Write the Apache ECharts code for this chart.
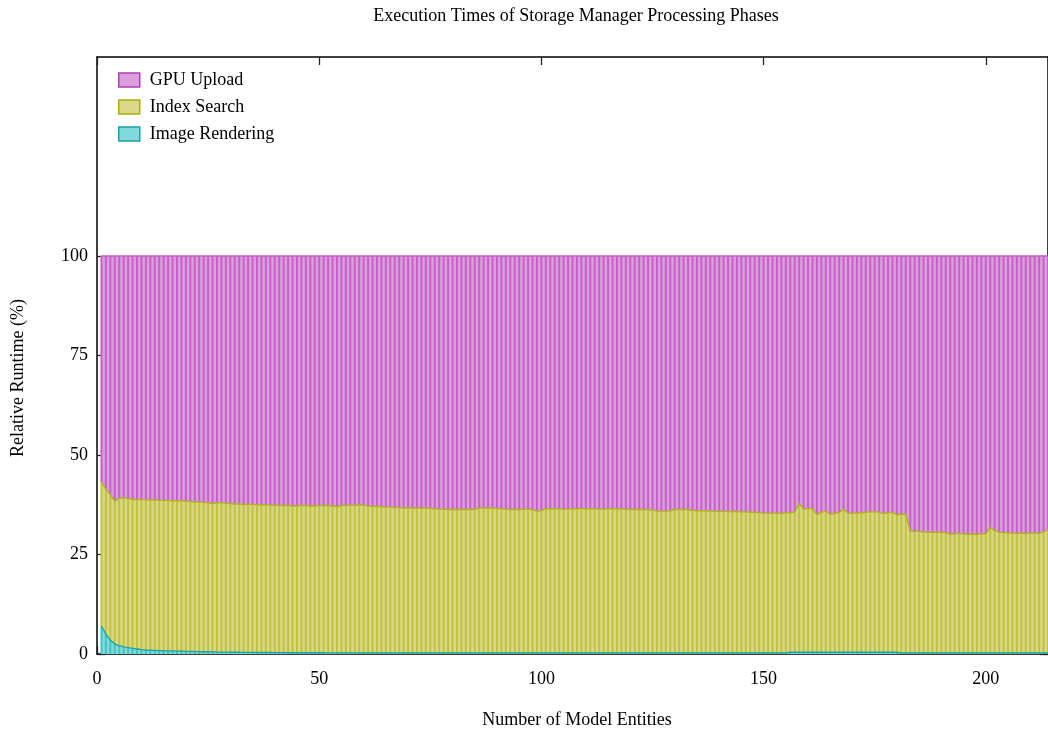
<!DOCTYPE html>
<html>
<head>
<meta charset="utf-8">
<script src="https://cdn.jsdelivr.net/npm/echarts@6/dist/echarts.min.js"></script>
<style>
  html, body { margin: 0; padding: 0; background: #ffffff; }
  #chart { width: 1048px; height: 732px; }
</style>
</head>
<body>
<div id="chart"></div>
<script>
// Relative runtime (%) of each processing phase, for model entity counts 1..214
const imageRendering = [
  7.0, 5.0, 3.5, 2.5, 2.1, 1.8, 1.6, 1.4, 1.25, 1.1,
  1.0, 0.95, 0.9, 0.85, 0.8, 0.78, 0.75, 0.72, 0.7, 0.67,
  0.65, 0.62, 0.6, 0.57, 0.55, 0.53, 0.5, 0.48, 0.46, 0.45,
  0.44, 0.43, 0.42, 0.41, 0.4, 0.39, 0.38, 0.37, 0.36, 0.35,
  0.34, 0.34, 0.33, 0.33, 0.32, 0.32, 0.31, 0.31, 0.3, 0.3,
  0.3, 0.29, 0.29, 0.29, 0.28, 0.28, 0.28, 0.28, 0.27, 0.27,
  0.25, 0.25, 0.25, 0.25, 0.25, 0.25, 0.25, 0.25, 0.25, 0.25,
  0.25, 0.25, 0.25, 0.25, 0.25, 0.25, 0.25, 0.25, 0.25, 0.25,
  0.25, 0.25, 0.25, 0.25, 0.25, 0.25, 0.25, 0.25, 0.25, 0.25,
  0.25, 0.25, 0.25, 0.25, 0.25, 0.25, 0.25, 0.25, 0.25, 0.25,
  0.25, 0.25, 0.25, 0.25, 0.25, 0.25, 0.25, 0.25, 0.25, 0.25,
  0.25, 0.25, 0.25, 0.25, 0.25, 0.25, 0.25, 0.25, 0.25, 0.25,
  0.25, 0.25, 0.25, 0.25, 0.25, 0.25, 0.25, 0.25, 0.25, 0.25,
  0.25, 0.25, 0.25, 0.25, 0.25, 0.25, 0.25, 0.25, 0.25, 0.25,
  0.25, 0.25, 0.25, 0.25, 0.25, 0.25, 0.25, 0.25, 0.25, 0.25,
  0.25, 0.25, 0.25, 0.25, 0.25, 0.45, 0.45, 0.45, 0.45, 0.45,
  0.45, 0.45, 0.45, 0.45, 0.45, 0.45, 0.45, 0.45, 0.45, 0.45,
  0.45, 0.45, 0.45, 0.45, 0.45, 0.45, 0.45, 0.45, 0.45, 0.45,
  0.25, 0.25, 0.25, 0.25, 0.25, 0.25, 0.25, 0.25, 0.25, 0.25,
  0.25, 0.25, 0.25, 0.25, 0.25, 0.25, 0.25, 0.25, 0.25, 0.25,
  0.25, 0.25, 0.25, 0.25, 0.25, 0.25, 0.25, 0.25, 0.25, 0.25,
  0.25, 0.25, 0.25, 0.25
];

const indexSearch = [
  36.2, 36.5, 36.5, 35.9, 37.0, 37.5, 37.4, 37.5, 37.55, 37.7,
  37.8, 37.75, 37.8, 37.75, 37.8, 37.82, 37.75, 37.78, 37.8, 37.73,
  37.65, 37.58, 37.6, 37.53, 37.45, 37.27, 37.5, 37.52, 37.44, 37.35,
  37.26, 37.27, 37.18, 37.19, 37.2, 37.11, 37.12, 37.13, 37.04, 37.05,
  36.96, 36.96, 36.97, 36.87, 36.88, 36.98, 36.99, 36.89, 36.9, 37.0,
  37.0, 37.01, 36.91, 36.71, 37.02, 37.02, 37.12, 37.12, 37.23, 37.13,
  36.95, 36.85, 36.85, 36.75, 36.65, 36.65, 36.55, 36.55, 36.45, 36.45,
  36.45, 36.45, 36.45, 36.45, 36.35, 36.25, 36.15, 36.15, 36.05, 36.05,
  36.05, 36.05, 36.05, 36.05, 36.05, 36.45, 36.45, 36.45, 36.45, 36.35,
  36.25, 36.15, 36.05, 36.05, 36.05, 36.15, 36.15, 36.05, 35.65, 35.75,
  36.25, 36.25, 36.25, 36.25, 36.15, 36.15, 36.25, 36.25, 36.35, 36.25,
  36.25, 36.25, 36.15, 36.15, 36.25, 36.25, 36.25, 36.15, 36.15, 36.05,
  36.05, 36.05, 36.05, 36.05, 35.95, 35.65, 35.65, 35.65, 35.75, 36.05,
  36.05, 36.05, 36.05, 35.85, 35.75, 35.75, 35.75, 35.65, 35.65, 35.55,
  35.65, 35.55, 35.55, 35.55, 35.45, 35.45, 35.35, 35.35, 35.25, 35.15,
  35.15, 35.15, 35.15, 35.05, 35.25, 35.05, 35.25, 37.35, 35.95, 36.15,
  36.05, 34.55, 35.15, 35.45, 34.65, 34.85, 35.15, 35.95, 34.95, 34.95,
  34.95, 35.05, 35.15, 35.25, 35.25, 35.15, 34.85, 35.05, 35.15, 34.55,
  34.85, 34.85, 30.65, 30.55, 30.55, 30.45, 30.35, 30.35, 30.35, 30.35,
  30.25, 29.85, 29.95, 30.05, 29.95, 29.85, 29.85, 29.85, 29.95, 29.95,
  31.55, 30.75, 30.35, 30.25, 30.15, 30.15, 30.05, 30.15, 29.95, 30.15,
  30.15, 30.05, 30.45, 30.95
];

const gpuUpload = [
  56.8, 58.5, 60.0, 61.6, 60.9, 60.7, 61.0, 61.1, 61.2, 61.2,
  61.2, 61.3, 61.3, 61.4, 61.4, 61.4, 61.5, 61.5, 61.5, 61.6,
  61.7, 61.8, 61.8, 61.9, 62.0, 62.2, 62.0, 62.0, 62.1, 62.2,
  62.3, 62.3, 62.4, 62.4, 62.4, 62.5, 62.5, 62.5, 62.6, 62.6,
  62.7, 62.7, 62.7, 62.8, 62.8, 62.7, 62.7, 62.8, 62.8, 62.7,
  62.7, 62.7, 62.8, 63.0, 62.7, 62.7, 62.6, 62.6, 62.5, 62.6,
  62.8, 62.9, 62.9, 63.0, 63.1, 63.1, 63.2, 63.2, 63.3, 63.3,
  63.3, 63.3, 63.3, 63.3, 63.4, 63.5, 63.6, 63.6, 63.7, 63.7,
  63.7, 63.7, 63.7, 63.7, 63.7, 63.3, 63.3, 63.3, 63.3, 63.4,
  63.5, 63.6, 63.7, 63.7, 63.7, 63.6, 63.6, 63.7, 64.1, 64.0,
  63.5, 63.5, 63.5, 63.5, 63.6, 63.6, 63.5, 63.5, 63.4, 63.5,
  63.5, 63.5, 63.6, 63.6, 63.5, 63.5, 63.5, 63.6, 63.6, 63.7,
  63.7, 63.7, 63.7, 63.7, 63.8, 64.1, 64.1, 64.1, 64.0, 63.7,
  63.7, 63.7, 63.7, 63.9, 64.0, 64.0, 64.0, 64.1, 64.1, 64.2,
  64.1, 64.2, 64.2, 64.2, 64.3, 64.3, 64.4, 64.4, 64.5, 64.6,
  64.6, 64.6, 64.6, 64.7, 64.5, 64.5, 64.3, 62.2, 63.6, 63.4,
  63.5, 65.0, 64.4, 64.1, 64.9, 64.7, 64.4, 63.6, 64.6, 64.6,
  64.6, 64.5, 64.4, 64.3, 64.3, 64.4, 64.7, 64.5, 64.4, 65.0,
  64.9, 64.9, 69.1, 69.2, 69.2, 69.3, 69.4, 69.4, 69.4, 69.4,
  69.5, 69.9, 69.8, 69.7, 69.8, 69.9, 69.9, 69.9, 69.8, 69.8,
  68.2, 69.0, 69.4, 69.5, 69.6, 69.6, 69.7, 69.6, 69.8, 69.6,
  69.6, 69.7, 69.3, 68.8
];

// Entity counts along the x axis (0 is the empty left margin)
const entityCounts = ['0'].concat(gpuUpload.map((_, i) => String(i + 1)));
const xTickLabels = ['0', '50', '100', '150', '200'];
const yTicks = [0, 25, 50, 75, 100];

const phases = [
  { name: 'Image Rendering', values: imageRendering, fill: '#84dada', stripe: '#44c2c2', edge: '#1fa3a3' },
  { name: 'Index Search',    values: indexSearch,    fill: '#d8d886', stripe: '#c2c242', edge: '#b2b023' },
  { name: 'GPU Upload',      values: gpuUpload,      fill: '#dc9edc', stripe: '#c562c8', edge: '#c062c4' }
];

const FONT = "'Liberation Serif', 'DejaVu Serif', serif";
const withGap = arr => ['-'].concat(arr);
const isXTick = (idx, val) => xTickLabels.indexOf(String(val)) !== -1;

const series = [];
phases.forEach(p => {
  // filled band
  series.push({
    name: p.name, type: 'line', stack: 'fill', data: withGap(p.values),
    symbol: 'none', lineStyle: { width: 0 }, areaStyle: { color: p.fill, opacity: 1 },
    itemStyle: { color: p.fill }, z: 1, silent: true, animation: false
  });
});
phases.forEach(p => {
  // per-entity bar outlines
  series.push({
    name: p.name + ' bars', type: 'bar', stack: 'bars', data: withGap(p.values),
    barWidth: 2, itemStyle: { color: p.stripe }, z: 2, silent: true, animation: false
  });
});
phases.forEach(p => {
  // upper boundary of each band
  series.push({
    name: p.name + ' edge', type: 'line', stack: 'edge', data: withGap(p.values),
    symbol: 'none', lineStyle: { width: 1.4, color: p.edge }, z: 3, silent: true, animation: false
  });
});

const axisLine = { show: true, onZero: false, lineStyle: { color: '#000', width: 1.5 } };
const tickStyle = { color: '#222', width: 1.3 };

const chart = echarts.init(document.getElementById('chart'), null, { renderer: 'canvas' });
chart.setOption({
  backgroundColor: '#ffffff',
  animation: false,
  grid: { left: 97, right: 0, top: 57, bottom: 78, containLabel: false },
  xAxis: [
    {
      type: 'category', position: 'bottom', data: entityCounts, boundaryGap: false,
      axisLine: axisLine,
      axisTick: { show: true, inside: true, length: 8, interval: isXTick, lineStyle: tickStyle },
      axisLabel: { interval: isXTick, margin: 16, color: '#000', fontFamily: FONT, fontSize: 18 },
      splitLine: { show: false }
    },
    {
      type: 'category', position: 'top', data: entityCounts, boundaryGap: false,
      axisLine: axisLine,
      axisTick: { show: true, inside: true, length: 8, interval: isXTick, lineStyle: tickStyle },
      axisLabel: { show: false },
      splitLine: { show: false }
    }
  ],
  yAxis: [
    {
      type: 'value', position: 'left', min: 0, max: 150, interval: 25,
      axisLine: axisLine,
      axisTick: { show: true, inside: true, length: 8, customValues: yTicks, lineStyle: tickStyle },
      axisLabel: { customValues: yTicks, margin: 9, color: '#000', fontFamily: FONT, fontSize: 18 },
      splitLine: { show: false }
    },
    {
      type: 'value', position: 'right', min: 0, max: 150, interval: 25,
      axisLine: axisLine,
      axisTick: { show: true, inside: true, length: 8, customValues: yTicks, lineStyle: tickStyle },
      axisLabel: { show: false },
      splitLine: { show: false }
    }
  ],
  legend: {
    orient: 'vertical', left: 118, top: 71, itemGap: 9, padding: 0,
    itemWidth: 21, itemHeight: 14, icon: 'rect', selectedMode: false,
    textStyle: { color: '#000', fontFamily: FONT, fontSize: 18, padding: [0, 0, 0, 5] },
    data: [
      { name: 'GPU Upload', itemStyle: { color: '#dc9edc', borderColor: '#b040b4', borderWidth: 1.5 } },
      { name: 'Index Search', itemStyle: { color: '#d8d886', borderColor: '#adad10', borderWidth: 1.5 } },
      { name: 'Image Rendering', itemStyle: { color: '#84dada', borderColor: '#1aa3a3', borderWidth: 1.5 } }
    ]
  },
  graphic: [
    { type: 'text', x: 576, y: 16, style: { text: 'Execution Times of Storage Manager Processing Phases', fill: '#000', font: '18px ' + FONT, textAlign: 'center', textVerticalAlign: 'middle' } },
    { type: 'text', x: 577, y: 720, style: { text: 'Number of Model Entities', fill: '#000', font: '18px ' + FONT, textAlign: 'center', textVerticalAlign: 'middle' } },
    { type: 'text', x: 18, y: 378, rotation: Math.PI / 2, style: { text: 'Relative Runtime (%)', fill: '#000', font: '18px ' + FONT, textAlign: 'center', textVerticalAlign: 'middle' } }
  ],
  series: series
});
</script>
</body>
</html>
